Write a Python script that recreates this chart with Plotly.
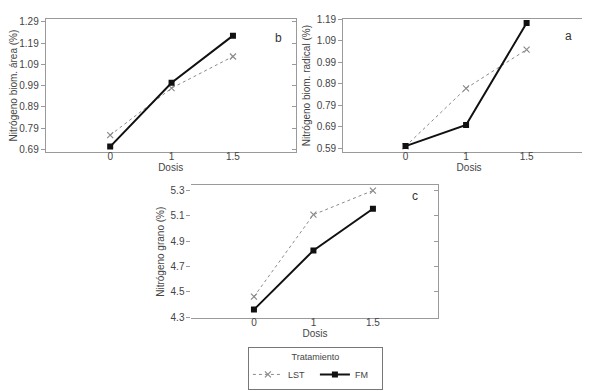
import plotly.graph_objects as go

W, H = 590, 391

dosis = ["0", "1", "1.5"]

# Panel b: Nitrógeno biom. área (%)
b_lst = [0.757, 0.978, 1.127]
b_fm = [0.703, 1.003, 1.225]
b_ticks = [0.69, 0.79, 0.89, 0.99, 1.09, 1.19, 1.29]

# Panel a: Nitrógeno biom. radical (%)
a_lst = [0.600, 0.869, 1.049]
a_fm = [0.601, 0.699, 1.172]
a_ticks = [0.59, 0.69, 0.79, 0.89, 0.99, 1.09, 1.19]

# Panel c: Nitrógeno grano (%)
c_lst = [4.463, 5.108, 5.298]
c_fm = [4.361, 4.827, 5.155]
c_ticks = [4.3, 4.5, 4.7, 4.9, 5.1, 5.3]

FONT = "Liberation Sans, Arial, sans-serif"
TXT = "#444444"
FRAME = "#9a9a9a"


def px_x(a, b):
    return [a / W, b / W]


def px_y(top, bottom):
    return [1 - bottom / H, 1 - top / H]


panels = [
    ("b", (33, 285), (6, 143), [-1.05, 3.02], [0.676, 1.304], b_ticks, b_lst, b_fm,
     "Nitrógeno biom. área (%)", (268, 16), True),
    ("a", (333, 587), (6, 143), [-1.03, 3.13], [0.572, 1.1915], a_ticks, a_lst, a_fm,
     "Nitrógeno biom. radical (%)", (566, 14), True),
    ("c", (180, 429), (177, 313), [-1.05, 3.1], [4.295, 5.338], c_ticks, c_lst, c_fm,
     "Nitrógeno grano (%)", (410, 188), False),
]

fig = go.Figure()
layout = {}
annotations = []

for i, (letter, xd, yd, xr, yr, ticks, lst, fm, title, lpos, leftline) in enumerate(panels):
    n = i + 1
    xa = "x" if n == 1 else f"x{n}"
    ya = "y" if n == 1 else f"y{n}"
    xf = f"x{n + 3}"      # frame x-axis (bottom/top lines)
    ya_r = f"y{n + 3}"    # right y-axis (inside ticks)
    show = n == 1
    fig.add_trace(go.Scatter(
        x=dosis, y=lst, xaxis=xa, yaxis=ya, name="LST", legendgroup="LST", showlegend=show,
        mode="lines+markers",
        line=dict(color="#8a8a8a", width=1, dash="dot"),
        marker=dict(symbol="x-thin-open", size=6, color="#8a8a8a", line=dict(width=1.2, color="#8a8a8a")),
    ))
    fig.add_trace(go.Scatter(
        x=dosis, y=fm, xaxis=xa, yaxis=ya, name="FM", legendgroup="FM", showlegend=show,
        mode="lines+markers",
        line=dict(color="#111111", width=2),
        marker=dict(symbol="square", size=6, color="#111111"),
    ))
    # invisible helper trace so the frame axes are rendered
    fig.add_trace(go.Scatter(
        x=dosis, y=fm, xaxis=xf, yaxis=ya_r, showlegend=False, hoverinfo="skip",
        mode="lines", line=dict(width=0, color="rgba(0,0,0,0)"),
    ))
    xkey = "xaxis" if n == 1 else f"xaxis{n}"
    ykey = "yaxis" if n == 1 else f"yaxis{n}"
    ydom = px_y(*yd)
    layout[xkey] = dict(
        domain=px_x(*xd), anchor="free", position=ydom[0] + 3 / H, type="category", range=xr,
        showline=False, ticks="", showgrid=False, zeroline=False,
        tickfont=dict(size=10, color=TXT, family=FONT),
        title=dict(text="Dosis", font=dict(size=10, color=TXT, family=FONT), standoff=0),
    )
    layout[f"xaxis{n + 3}"] = dict(
        domain=px_x(*xd), anchor=ya, overlaying=xa, type="category", range=xr,
        showline=True, mirror=True, linecolor=FRAME, linewidth=1,
        ticks="", showticklabels=False, showgrid=False, zeroline=False,
    )
    layout[ykey] = dict(
        domain=ydom, anchor=xa, range=yr,
        tickmode="array", tickvals=ticks,
        ticktext=[f"{t:.2f}" if letter != "c" else f"{t:.1f}" for t in ticks],
        showline=leftline, linecolor=FRAME, linewidth=1,
        ticks="outside", ticklen=4, tickcolor=FRAME, showgrid=False, zeroline=False,
        tickfont=dict(size=10, color=TXT, family=FONT),
        title=dict(text=title, font=dict(size=10, color=TXT, family=FONT), standoff=4),
    )
    layout[f"yaxis{n + 3}"] = dict(
        overlaying=ya, side="right", anchor=xf, range=yr,
        tickmode="array", tickvals=ticks, showticklabels=False,
        showline=True, linecolor=FRAME, linewidth=1,
        ticks="inside", ticklen=4, tickcolor=FRAME, showgrid=False, zeroline=False,
    )
    annotations.append(dict(
        text=letter, x=lpos[0] / W, y=1 - lpos[1] / H, xref="paper", yref="paper",
        showarrow=False, font=dict(size=12, color="#333333", family=FONT),
    ))

fig.update_layout(
    width=W, height=H,
    margin=dict(l=0, r=0, t=0, b=0),
    paper_bgcolor="white", plot_bgcolor="white",
    font=dict(family=FONT, size=10, color=TXT),
    annotations=annotations,
    legend=dict(
        orientation="h", x=305 / W, xanchor="center", y=1 - 343 / H, yanchor="top",
        title=dict(text="Tratamiento", side="top center", font=dict(size=9, color=TXT, family=FONT)),
        font=dict(size=9, color=TXT, family=FONT),
        bordercolor="#777777", borderwidth=1, bgcolor="white",
        itemwidth=30, entrywidth=22, tracegroupgap=0, valign="middle",
    ),
    **layout,
)

fig.write_html("out.html")
